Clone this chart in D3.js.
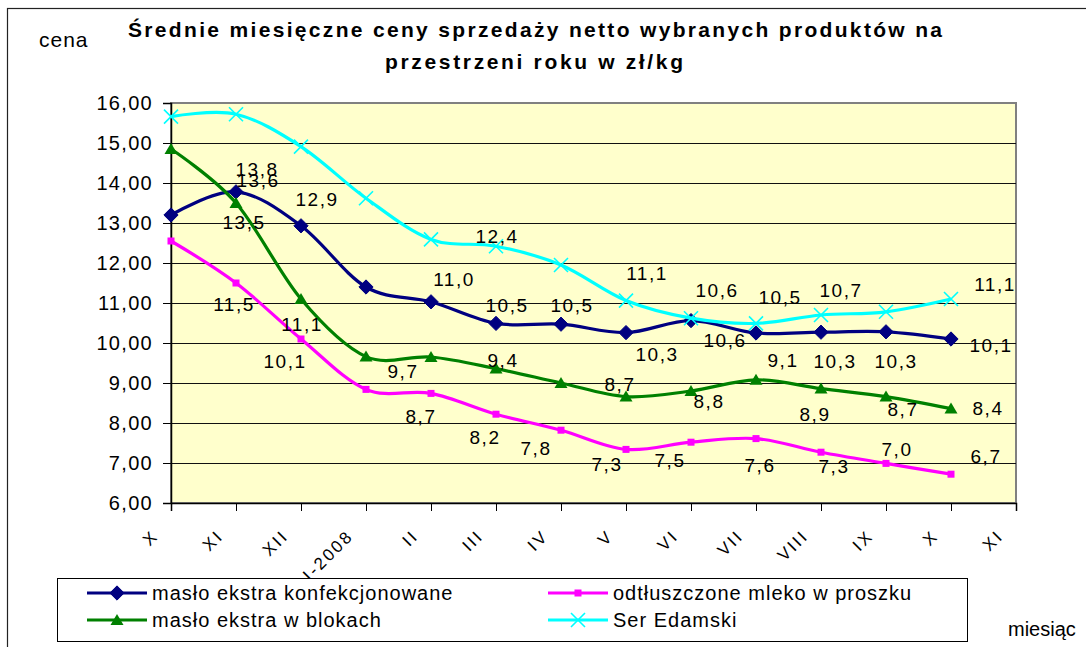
<!DOCTYPE html>
<html>
<head>
<meta charset="utf-8">
<script src="https://cdn.jsdelivr.net/npm/d3@7"></script>
<style>
    html, body { margin: 0; padding: 0; background: #fff; }
    svg { display: block; font-family: "Liberation Sans", Arial, sans-serif; }
</style>
</head>
<body>
<div id="chart"></div>
<script>
var months = ["X", "XI", "XII", "I-2008", "II", "III", "IV", "V", "VI", "VII", "VIII", "IX", "X", "XI"];

var maslo_konf = [13.2, 13.78, 12.93, 11.4, 11.03, 10.49, 10.47, 10.26, 10.56, 10.25, 10.27, 10.28, 10.1, null];
var mleko_proszek = [12.55, 11.5, 10.1, 8.84, 8.74, 8.22, 7.82, 7.34, 7.52, 7.61, 7.27, 6.99, 6.72, null];
var maslo_bloki = [14.85, 13.5, 11.1, 9.66, 9.65, 9.36, 9.0, 8.66, 8.8, 9.08, 8.86, 8.66, 8.36, null];
var ser_edamski = [15.66, 15.72, 14.91, 13.62, 12.59, 12.42, 11.95, 11.06, 10.62, 10.49, 10.7, 10.78, 11.1, null];

var yTicks = [6, 7, 8, 9, 10, 11, 12, 13, 14, 15, 16];

// manual label placement (offset from the point), null = no label
var nudge_konf = [null, [20, -22], [15, -26], null, [22, -22], [10, -18], [10, -19], [30, 22], [33, 20], null, [13, 29], [9, 30], [39, 6], null];
var nudge_mleko = [null, [-3, 21], [-17, 22], null, [-11, 23], [-12, 23], [-26, 18], [-20, 15], [-22, 18], [3, 27], [12, 14], [10, -14], [34, -18], null];
var nudge_bloki = [null, [7, 19], [0, 25], [36, 15], null, [6, -8], null, [-7, -12], [17, 10], [26, -19], [-7, 26], [16, 13], [36, 0], null];
var nudge_ser = [null, null, null, [-109, -18], null, [0, -10], null, [20, -27], [25, -28], [23, -26], [19, -25], null, [43, -15], null];

var series = [
    { name: "masło ekstra konfekcjonowane", values: maslo_konf, nudge: nudge_konf, color: "#000080", marker: "diamond" },
    { name: "odtłuszczone mleko w proszku", values: mleko_proszek, nudge: nudge_mleko, color: "#FF00FF", marker: "square" },
    { name: "masło ekstra w blokach", values: maslo_bloki, nudge: nudge_bloki, color: "#008000", marker: "triangle" },
    { name: "Ser Edamski", values: ser_edamski, nudge: nudge_ser, color: "#00FFFF", marker: "cross" }
];

var W = 1086, H = 647;
var plot = { left: 171, right: 1016, top: 103, bottom: 503 };

var x = d3.scalePoint().domain(d3.range(months.length)).range([plot.left, plot.right]);
var y = d3.scaleLinear().domain([6, 16]).range([plot.bottom, plot.top]);

var svg = d3.select("#chart").append("svg")
    .attr("width", W)
    .attr("height", H);

svg.append("rect").attr("width", W).attr("height", H).attr("fill", "#fff");
// outer chart border (runs off the picture on right/bottom)
svg.append("rect")
    .attr("x", 7.5).attr("y", 8.5)
    .attr("width", W + 20).attr("height", H + 20)
    .attr("fill", "none").attr("stroke", "#222").attr("stroke-width", 1.2);

// title
var title = svg.append("g").attr("font-weight", "bold").attr("font-size", 21).attr("fill", "#000");
title.append("text").attr("x", 128).attr("y", 37)
    .attr("textLength", 814).attr("lengthAdjust", "spacing")
    .text("Średnie miesięczne ceny sprzedaży netto  wybranych produktów na");
title.append("text").attr("x", 385).attr("y", 69)
    .attr("textLength", 298).attr("lengthAdjust", "spacing")
    .text("przestrzeni roku w zł/kg");

svg.append("text").attr("x", 39).attr("y", 47)
    .attr("font-size", 21).attr("letter-spacing", 1)
    .text("cena");
svg.append("text").attr("x", 1008).attr("y", 636)
    .attr("font-size", 20)
    .text("miesiąc");

// plot area
svg.append("rect")
    .attr("x", plot.left).attr("y", plot.top)
    .attr("width", plot.right - plot.left).attr("height", plot.bottom - plot.top)
    .attr("fill", "#FFFFCC").attr("stroke", "#808080").attr("stroke-width", 2);

svg.append("g").selectAll("line")
    .data(yTicks.filter(function(t) { return t > 6 && t < 16; }))
    .join("line")
    .attr("x1", plot.left).attr("x2", plot.right)
    .attr("y1", function(d) { return Math.round(y(d)) + 0.5; })
    .attr("y2", function(d) { return Math.round(y(d)) + 0.5; })
    .attr("stroke", "#111").attr("stroke-width", 1);

// axes
var yAxis = d3.axisLeft(y).tickValues(yTicks).tickSize(8).tickPadding(10)
    .tickFormat(function(d) { return d3.format(".2f")(d).replace(".", ","); });
var gy = svg.append("g").attr("transform", "translate(" + plot.left + ",0)").call(yAxis);
gy.select(".domain").attr("stroke", "#000").attr("stroke-width", 1.5);
gy.selectAll(".tick line").attr("stroke", "#000");
gy.selectAll(".tick text")
    .attr("font-family", "Liberation Sans, Arial, sans-serif")
    .attr("font-size", 20).attr("letter-spacing", 1.3).attr("fill", "#000");

var xAxis = d3.axisBottom(x).tickSize(8).tickFormat(function(i) { return months[i]; });
var gx = svg.append("g").attr("transform", "translate(0," + plot.bottom + ")").call(xAxis);
gx.select(".domain").attr("stroke", "#000").attr("stroke-width", 1.5);
gx.selectAll(".tick line").attr("stroke", "#000");
gx.selectAll(".tick text")
    .attr("font-family", "Liberation Sans, Arial, sans-serif")
    .attr("font-size", 17).attr("letter-spacing", 2.5).attr("fill", "#000")
    .attr("text-anchor", "end")
    .attr("dy", null)
    .attr("y", 0)
    .attr("transform", "translate(-12,34) rotate(-45)");

// lines
var line = d3.line()
    .defined(function(d) { return d != null; })
    .x(function(d, i) { return x(i); })
    .y(function(d) { return y(d); })
    .curve(d3.curveCardinal);

function drawMarker(g, type, color, cx, cy) {
    if (type === "diamond") {
        g.append("path").attr("d", d3.symbol(d3.symbolDiamond2, 130)())
            .attr("transform", "translate(" + cx + "," + cy + ")")
            .attr("fill", color).attr("stroke", color).attr("stroke-width", 1);
    } else if (type === "square") {
        g.append("rect").attr("x", cx - 3.5).attr("y", cy - 3.5).attr("width", 7).attr("height", 7)
            .attr("fill", color);
    } else if (type === "triangle") {
        g.append("path").attr("d", "M0,-6L6.5,5L-6.5,5Z")
            .attr("transform", "translate(" + cx + "," + cy + ")")
            .attr("fill", color);
    } else if (type === "cross") {
        g.append("path").attr("d", "M-7,-7L7,7M-7,7L7,-7")
            .attr("transform", "translate(" + cx + "," + cy + ")")
            .attr("stroke", color).attr("stroke-width", 1.6).attr("fill", "none");
    }
}

var lines = svg.append("g");
series.forEach(function(s) {
    var g = lines.append("g");
    g.append("path").attr("d", line(s.values))
        .attr("fill", "none").attr("stroke", s.color).attr("stroke-width", 3.2)
        .attr("stroke-linejoin", "round");
    s.values.forEach(function(v, i) {
        if (v == null) return;
        drawMarker(g, s.marker, s.color, x(i), y(v));
    });
});

// data labels on top
var labels = svg.append("g").attr("font-size", 19).attr("letter-spacing", 1.5).attr("fill", "#000");
series.forEach(function(s) {
    s.values.forEach(function(v, i) {
        var n = s.nudge[i];
        if (v == null || !n) return;
        labels.append("text")
            .attr("x", x(i) + n[0] + 1).attr("y", y(v) + n[1])
            .attr("text-anchor", "middle")
            .attr("dominant-baseline", "central")
            .text(d3.format(".1f")(v).replace(".", ","));
    });
});

// legend
var legend = svg.append("g");
legend.append("rect")
    .attr("x", 57.5).attr("y", 578.5).attr("width", 910).attr("height", 63)
    .attr("fill", "#fff").attr("stroke", "#000").attr("stroke-width", 1);
var legendPos = [[87, 593], [548, 593], [87, 620], [548, 620]];
var legendOrder = [0, 1, 2, 3];
legendOrder.forEach(function(si, k) {
    var s = series[si], p = legendPos[k];
    var g = legend.append("g");
    g.append("line").attr("x1", p[0]).attr("x2", p[0] + 60).attr("y1", p[1]).attr("y2", p[1])
        .attr("stroke", s.color).attr("stroke-width", 3.2);
    drawMarker(g, s.marker, s.color, p[0] + 30, p[1]);
    g.append("text").attr("x", p[0] + 65).attr("y", p[1])
        .attr("dominant-baseline", "central")
        .attr("font-size", 20).attr("letter-spacing", 1)
        .text(s.name);
});
</script>
</body>
</html>
